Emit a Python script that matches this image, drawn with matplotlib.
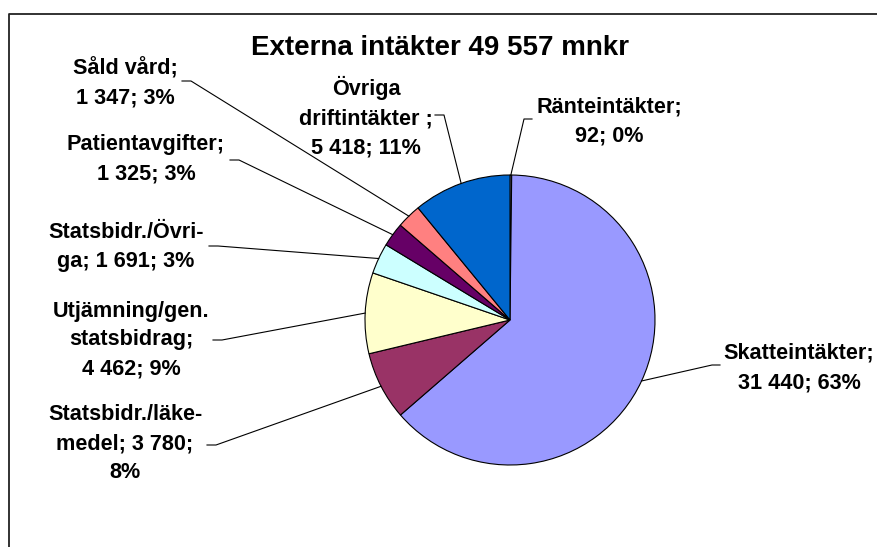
import numpy as np
import matplotlib.pyplot as plt

plt.rcParams['font.family'] = ['Liberation Sans', 'DejaVu Sans']

W, H = 878, 547  # bildens storlek i pixlar

# data (medurs fran klockan 12)
namn = ['Ränteintäkter', 'Skatteintäkter', 'Statsbidr./läkemedel',
        'Utjämning/gen. statsbidrag', 'Statsbidr./Övriga', 'Patientavgifter',
        'Såld vård', 'Övriga driftintäkter']
belopp = [92, 31440, 3780, 4462, 1691, 1325, 1347, 5418]
etiketter = ['Ränteintäkter;\n92; 0%',
             'Skatteintäkter;\n31 440; 63%',
             'Statsbidr./läke-\nmedel; 3 780;\n8%',
             'Utjämning/gen.\nstatsbidrag;\n4 462; 9%',
             'Statsbidr./Övri-\nga; 1 691; 3%',
             'Patientavgifter;\n1 325; 3%',
             'Såld vård;\n1 347; 3%',
             'Övriga\ndriftintäkter ;\n5 418; 11%']
farger = ['#CCCCFF', '#9999FF', '#993366', '#FFFFCC', '#CCFFFF',
          '#660066', '#FF8080', '#0066CC']
titel = 'Externa intäkter 49 557 mnkr'

# placering av etiketter (pixlar fran overkant) och var ledarlinjen borjar
etikett_pos = [(609, 121), (799, 368), (125, 444), (131, 340),
               (126, 247), (146, 159), (125, 83), (366, 117)]
linje_start = [(532, 119), (720, 365), (207, 445), (213, 340),
               (209, 246), (230, 160), (182, 81), (435, 115)]

def yy(y):
    # pixlar fran overkant -> datakoordinat
    return H - y

fig = plt.figure(figsize=(W / 100, H / 100), dpi=100)
ax = fig.add_axes([0, 0, 1, 1])

cx, cy, r = 510, yy(320), 145
wedges, _ = ax.pie(belopp, colors=farger, startangle=90, counterclock=False,
                   center=(cx, cy), radius=r,
                   wedgeprops=dict(edgecolor='black', linewidth=0.8))

ax.set_xlim(0, W)
ax.set_ylim(0, H)
ax.axis('off')

for w, txt, (lx, ly), (sx, sy) in zip(wedges, etiketter, etikett_pos, linje_start):
    mitt = np.deg2rad((w.theta1 + w.theta2) / 2)
    px = cx + r * np.cos(mitt)
    py = cy + r * np.sin(mitt)
    kx = sx + (9 if sx < cx else -8)  # kort vagrat stycke vid etiketten
    ax.plot([sx, kx, px], [yy(sy), yy(sy), py], color='black', lw=0.8)
    ax.text(lx, yy(ly), txt, ha='center', va='center', fontsize=15.6,
            fontweight='bold', linespacing=1.5)

ax.text(440, yy(48), titel, ha='center', va='center', fontsize=20,
        fontweight='bold')

# ram (bara vanster- och overkant syns)
ax.plot([9.5, 9.5, W + 5], [-5, yy(14), yy(14)], color='#222222', lw=1.3,
        clip_on=False)

fig.savefig('out.png', dpi=100)
